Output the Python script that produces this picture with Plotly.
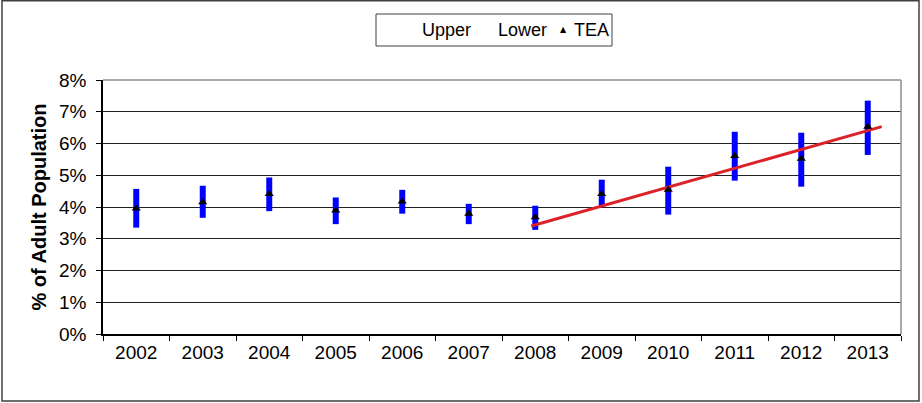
import plotly.graph_objects as go

# ---- data ----
years = [2002, 2003, 2004, 2005, 2006, 2007, 2008, 2009, 2010, 2011, 2012, 2013]
year_labels = [str(y) for y in years]
upper = [4.57, 4.67, 4.93, 4.30, 4.54, 4.10, 4.04, 4.86, 5.27, 6.37, 6.34, 7.35]
lower = [3.35, 3.66, 3.87, 3.46, 3.79, 3.46, 3.28, 4.05, 3.76, 4.83, 4.64, 5.64]
tea = [3.95, 4.15, 4.41, 3.89, 4.17, 3.79, 3.68, 4.41, 4.54, 5.61, 5.52, 6.53]
trend_x = [2007.94, 2013.21]
trend_y = [3.40, 6.53]
y_ticks = [0, 1, 2, 3, 4, 5, 6, 7, 8]
y_tick_labels = ["0%", "1%", "2%", "3%", "4%", "5%", "6%", "7%", "8%"]
legend_names = ["Upper", "Lower", "TEA"]

# ---- layout constants (pixels) ----
W, H = 922, 403
ML, MR, MT, MB = 103, 21, 80, 69
PW, PH = W - ML - MR, H - MT - MB

def px_x(p):
    return (p - ML) / PW

def px_y(p):
    return (H - MB - p) / PH

FONT = "Liberation Sans, Arial, sans-serif"

fig = go.Figure()

# high-low bars
fig.add_trace(go.Bar(
    x=years,
    y=[u - l for u, l in zip(upper, lower)],
    base=lower,
    width=0.09,
    marker=dict(color="#0000FF", line=dict(width=0)),
    showlegend=False,
    hoverinfo="skip",
))

# Upper / Lower series (invisible lines)
fig.add_trace(go.Scatter(x=years, y=upper, mode="lines", name=legend_names[0],
                         line=dict(width=0, color="rgba(0,0,0,0)"), showlegend=False))
fig.add_trace(go.Scatter(x=years, y=lower, mode="lines", name=legend_names[1],
                         line=dict(width=0, color="rgba(0,0,0,0)"), showlegend=False))

# trend line
fig.add_trace(go.Scatter(x=trend_x, y=trend_y, mode="lines",
                         line=dict(color="#DC2229", width=3),
                         showlegend=False, hoverinfo="skip"))

# TEA markers
fig.add_trace(go.Scatter(x=years, y=tea, mode="markers", name=legend_names[2],
                         marker=dict(symbol="triangle-up", size=8, color="black"),
                         showlegend=False))

# outer chart border
fig.add_shape(type="rect", xref="paper", yref="paper",
              x0=px_x(2), x1=px_x(919), y0=px_y(401), y1=px_y(0.8),
              line=dict(color="#404040", width=1.5), layer="below")
# plot-area border (top and right, grey)
fig.add_shape(type="line", xref="paper", yref="paper", x0=0, x1=1, y0=1, y1=1,
              line=dict(color="#8C8C8C", width=1.5), layer="above")
fig.add_shape(type="line", xref="paper", yref="paper", x0=1, x1=1, y0=0, y1=1,
              line=dict(color="#8C8C8C", width=1.5), layer="above")

# legend (drawn as box + text)
fig.add_shape(type="rect", xref="paper", yref="paper",
              x0=px_x(376), x1=px_x(612), y0=px_y(46), y1=px_y(14),
              line=dict(color="#404040", width=1), fillcolor="white", layer="above")
for name, left in zip(legend_names, [420, 496, 572]):
    fig.add_annotation(xref="paper", yref="paper", x=px_x(left), y=px_y(30),
                       xanchor="left", yanchor="middle", showarrow=False,
                       text=name, font=dict(size=18, family=FONT, color="black"))
fig.add_annotation(xref="paper", yref="paper", x=px_x(563), y=px_y(30),
                   xanchor="center", yanchor="middle", showarrow=False,
                   text="▲", font=dict(size=8, family="DejaVu Sans", color="black"))

fig.update_layout(
    width=W, height=H,
    margin=dict(l=ML, r=MR, t=MT, b=MB, autoexpand=False),
    paper_bgcolor="white", plot_bgcolor="white",
    barmode="overlay",
    font=dict(family=FONT, color="black", size=19),
    showlegend=False,
    xaxis=dict(
        range=[2001.5, 2013.5],
        tickmode="array", tickvals=years, ticktext=year_labels,
        ticks="", showgrid=False, zeroline=False,
        showline=True, linecolor="black", linewidth=1.5,
        tickfont=dict(size=19, family=FONT),
        minor=dict(tickmode="linear", tick0=2001.5, dtick=1,
                   ticks="outside", ticklen=5, tickcolor="black",
                   tickwidth=1, showgrid=False),
        fixedrange=True,
    ),
    yaxis=dict(
        range=[0, 8],
        tickmode="array", tickvals=y_ticks, ticktext=y_tick_labels,
        ticks="outside", ticklen=5, tickcolor="black", tickwidth=1,
        showgrid=True, gridcolor="#222222", gridwidth=1,
        zeroline=False,
        showline=True, linecolor="black", linewidth=1.5,
        tickfont=dict(size=19, family=FONT),
        ticklabelstandoff=6,
        title=dict(text="<b>% of Adult Population</b>",
                   font=dict(size=20, family=FONT), standoff=7),
        fixedrange=True,
    ),
)

fig.write_html("out.html")
